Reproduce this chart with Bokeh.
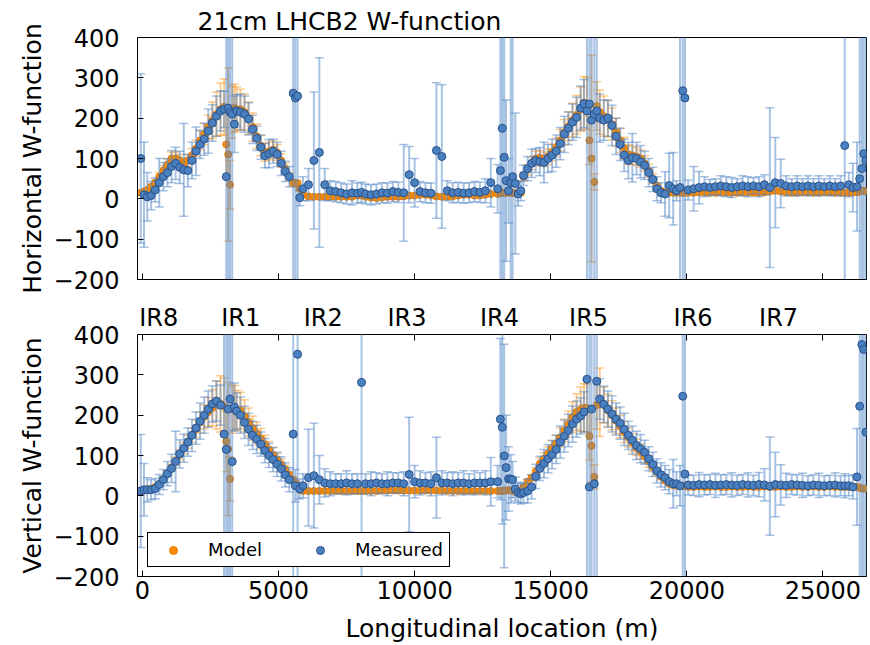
from bokeh.plotting import figure
from bokeh.models import (ColumnDataSource, Range1d, FixedTicker, LinearAxis,
                          Legend, LegendItem)
from bokeh.layouts import column
from bokeh.embed import file_html
from bokeh.resources import INLINE

# ---------------- data ----------------
s = [
    -60, 60, 180, 320, 470, 620, 770, 920, 1070, 1220, 1370, 1520, 1670, 1820, 1970, 2120, 2270, 2420, 2570, 2720, 2870,
    3000, 3080, 3150, 3220, 3300, 3380, 3460,
    3600, 3750, 3900, 4050, 4200, 4350, 4500, 4650, 4800, 4950, 5100, 5250, 5400,
    5540, 5620, 5700, 5780,
    5900, 6100, 6300, 6500, 6700, 6900, 7100, 7300, 7500, 7700, 7900, 8050, 8200, 8400, 8600, 8800, 9000, 9200, 9400, 9600,
    9800, 10000, 10200, 10400, 10600, 10800, 11000, 11200, 11400, 11600, 11800, 12000, 12200, 12400, 12600, 12800,
    13050, 13150, 13220, 13290, 13360, 13450, 13530, 13600, 13700, 13800, 13900,
    14000, 14150, 14300, 14450, 14600, 14750, 14900, 15050, 15200, 15350, 15500, 15650, 15800, 15950, 16100, 16220,
    16330, 16420, 16500, 16600, 16690,
    16800, 16950, 17100, 17250, 17400, 17550, 17700, 17850, 18000, 18150, 18300, 18450, 18600, 18750, 18900, 19050, 19200, 19350, 19500, 19620,
    19750, 19850, 19930,
    20050, 20250, 20450, 20650, 20850, 21050, 21250, 21450, 21650, 21850, 22050, 22250, 22450, 22650, 22850,
    23050, 23250, 23450, 23650, 23850, 24050, 24250, 24450, 24650, 24850, 25050, 25250, 25450, 25650,
    25800, 25950, 26100, 26250, 26350, 26430, 26500, 26580,
]

h_meas = [
    100, 10, 5, 8, 22, 40, 55, 65, 80, 88, 78, 72, 70, 95, 118, 135, 148, 168, 188, 205, 218,
    222, 55, 225, 215, 210, 185, 218,
    215, 210, 198, 172, 150, 128, 107, 112, 118, 110, 88, 68, 55,
    262, 250, 255, 3,
    25, 35, 95, 115, 35, 20, 18, 15, 12, 15, 14, 16, 12, 10, 12, 15, 14, 18, 16, 15,
    60, 40, 18, 15, 14, 120, 105, 20, 15, 16, 14, 15, 18, 16, 20, 40,
    25, 70, 175, 103, 45, 20, 40, 55, 38, 12, 20,
    58, 75, 88, 95, 92, 90, 100, 108, 118, 137, 160, 175, 190, 202, 225, 236,
    218, 235, 195, 210, 218,
    200, 195, 200, 182, 155, 135, 108, 95, 102, 100, 92, 83, 65, 48, 25, 15, 12, 33, 25, 20,
    28, 268, 250,
    22, 25, 28, 30, 28, 30, 32, 30, 28, 30, 32, 30, 32, 30, 35,
    28, 40, 38, 32, 30, 32, 30, 32, 30, 32, 30, 32, 30, 32,
    132, 35, 28, 30, 50, 75, 112, 95,
]
h_meas_err = [
    210, 130, 60, 35, 30, 60, 35, 35, 40, 40, 40, 115, 40, 45, 60, 35, 40, 55, 45, 50, 50,
    45, 1000, 1000, 1000, 1000, 70, 40,
    45, 45, 40, 35, 30, 30, 30, 35, 30, 30, 30, 25, 25,
    1000, 1000, 1000, 20,
    30, 40, 170, 235, 40, 25, 25, 25, 25, 30, 25, 25, 25, 25, 25, 25, 25, 25, 25, 120,
    70, 60, 25, 25, 25, 168, 178, 25, 25, 25, 25, 25, 25, 25, 30, 60,
    60, 1000, 1000, 1000, 200, 80, 1000, 1000, 175, 30, 25,
    25, 30, 35, 30, 35, 50, 35, 40, 40, 40, 45, 40, 45, 50, 55, 60,
    1000, 1000, 1000, 1000, 1000,
    60, 50, 45, 50, 45, 40, 40, 45, 60, 40, 40, 35, 35, 30, 30, 25, 55, 80, 90, 25,
    1000, 1000, 1000,
    25, 55, 40, 25, 20, 20, 25, 25, 25, 20, 25, 25, 20, 25, 25,
    198, 112, 60, 25, 20, 25, 20, 25, 20, 25, 20, 25, 20, 25,
    1000, 30, 60, 110, 1000, 1000, 1000, 1000,
]
h_model = [
    15, 18, 22, 30, 40, 55, 70, 85, 100, 100, 95, 88, 95, 108, 125, 145, 160, 178, 195, 210, 222,
    228, 135, 110, 35, 215, 225, 222,
    222, 215, 200, 178, 155, 132, 115, 118, 122, 115, 95, 75, 55,
    40, 38, 38, 25,
    10, 6, 5, 5, 5, 5, 5, 5, 5, 5, 8, 8, 5, 3, 2, 3, 5, 5, 5, 6,
    8, 8, 10, 10, 8, 6, 5, 5, 6, 8, 10, 10, 8, 8, 10, 12,
    12, 14, 15, 15, 15, 15, 15, 15, 14, 14, 15,
    55, 72, 88, 100, 102, 98, 105, 115, 128, 145, 165, 180, 195, 208, 222, 238,
    236, 145, 100, 42, 230,
    215, 205, 198, 185, 165, 145, 125, 110, 108, 105, 100, 88, 70, 50, 32, 20, 15, 15, 15, 15,
    15, 15, 15,
    15, 15, 16, 16, 15, 15, 16, 16, 15, 15, 16, 16, 15, 15, 16,
    18, 20, 18, 16, 15, 15, 16, 16, 15, 15, 16, 16, 15, 15,
    15, 15, 16, 16, 18, 20, 20, 18,
]
h_model_err = [
    3, 4, 5, 6, 8, 10, 12, 14, 16, 16, 15, 14, 15, 17, 20, 23, 26, 30, 45, 55, 65,
    70, 80, 215, 60, 65, 60, 55,
    50, 45, 40, 35, 30, 25, 22, 22, 22, 20, 17, 14, 10,
    8, 8, 8, 6,
    3, 3, 3, 3, 3, 3, 3, 3, 3, 3, 3, 3, 3, 3, 3, 3, 3, 3, 3, 3,
    3, 3, 3, 3, 3, 3, 3, 3, 3, 3, 3, 3, 3, 3, 3, 3,
    3, 3, 3, 3, 3, 3, 3, 3, 3, 3, 3,
    10, 13, 16, 18, 18, 18, 19, 21, 23, 27, 32, 36, 42, 48, 55, 65,
    65, 60, 256, 20, 60,
    55, 50, 45, 40, 35, 30, 27, 24, 23, 22, 21, 19, 16, 12, 8, 5, 4, 4, 4, 4,
    4, 4, 4,
    3, 3, 3, 3, 3, 3, 3, 3, 3, 3, 3, 3, 3, 3, 3,
    3, 3, 3, 3, 3, 3, 3, 3, 3, 3, 3, 3, 3, 3,
    3, 3, 3, 3, 3, 3, 3, 3,
]

v_meas = [
    12, 15, 15, 15, 18, 28, 40, 55, 68, 85, 104, 118, 133, 150, 168, 185, 200, 215, 228, 235, 225,
    153, 115, 215, 240, 85, 220, 210,
    200, 182, 165, 150, 140, 128, 112, 100, 90, 78, 67, 52, 40,
    153, 25, 351, 17,
    25, 45, 50, 40, 32, 30, 30, 30, 32, 30, 30, 281, 30, 30, 32, 30, 30, 32, 32, 30,
    53, 35, 32, 32, 30, 45, 32, 32, 30, 32, 32, 30, 32, 32, 32, 35,
    35, 190, 170, 99, 70, 42, 42, 40, 17, 8, 5,
    8, 12, 22, 48, 68, 80, 92, 102, 115, 133, 148, 162, 178, 190, 198, 208,
    289, 22, 215, 30, 284,
    240, 227, 215, 203, 190, 180, 165, 150, 138, 125, 117, 108, 92, 78, 62, 52, 45, 35, 30, 30,
    25, 247, 54,
    27, 26, 28, 27, 28, 26, 27, 28, 27, 26, 28, 27, 26, 28, 27,
    24, 28, 27, 26, 28, 27, 26, 25, 27, 26, 25, 26, 27, 25,
    25, 25, 22, 47, 222, 375, 363, 158,
]
v_meas_err = [
    140, 65, 30, 25, 25, 25, 25, 30, 35, 75, 35, 35, 35, 40, 40, 45, 45, 45, 45, 50, 50,
    1000, 1000, 1000, 1000, 1000, 60, 45,
    45, 40, 40, 35, 35, 30, 30, 30, 30, 30, 30, 30, 30,
    1000, 40, 1000, 25,
    30, 120, 130, 60, 35, 30, 25, 25, 30, 25, 25, 1000, 25, 30, 25, 25, 30, 25, 25, 30,
    142, 40, 30, 25, 30, 100, 30, 25, 30, 25, 30, 25, 30, 25, 30, 60,
    40, 200, 240, 277, 130, 80, 60, 45, 30, 25, 25,
    25, 30, 30, 30, 30, 35, 35, 35, 35, 40, 40, 40, 45, 45, 45, 50,
    1000, 1000, 1000, 1000, 1000,
    50, 45, 45, 45, 40, 40, 40, 35, 35, 35, 35, 30, 30, 30, 30, 30, 30, 30, 60, 30,
    50, 1000, 1000,
    25, 25, 30, 25, 25, 30, 25, 25, 30, 25, 25, 30, 25, 30, 40,
    122, 80, 50, 30, 25, 25, 30, 25, 25, 30, 25, 25, 30, 25,
    30, 25, 30, 120, 1000, 1000, 1000, 1000,
]
v_model = [
    12, 14, 16, 18, 22, 30, 42, 56, 70, 86, 102, 118, 134, 150, 166, 182, 196, 208, 218, 225, 228,
    222, 135, 116, 42, 215, 218, 212,
    212, 198, 183, 168, 155, 142, 128, 115, 102, 90, 78, 65, 52,
    40, 32, 25, 15,
    12, 12, 12, 12, 12, 12, 12, 12, 12, 12, 12, 12, 12, 12, 12, 13, 13, 13, 13, 13,
    13, 13, 13, 13, 13, 13, 13, 12, 12, 12, 12, 12, 12, 12, 12, 12,
    12, 12, 12, 13, 13, 14, 14, 12, 10, 8, 12,
    22, 35, 45, 60, 80, 92, 105, 118, 130, 145, 162, 178, 195, 208, 215, 218,
    218, 148, 124, 47, 225,
    232, 225, 212, 200, 186, 172, 158, 145, 132, 120, 110, 98, 85, 72, 60, 48, 38, 30, 26, 25,
    25, 25, 24,
    22, 22, 23, 22, 22, 23, 22, 22, 23, 22, 22, 23, 22, 22, 23,
    22, 22, 23, 22, 22, 23, 22, 22, 23, 22, 22, 23, 22, 22,
    22, 22, 22, 22, 20, 18, 18, 18,
]
v_model_err = [
    2, 2, 2, 3, 3, 4, 5, 6, 8, 10, 12, 14, 16, 18, 22, 26, 30, 36, 45, 60, 70,
    70, 75, 165, 55, 60, 55, 50,
    45, 40, 35, 30, 28, 25, 22, 20, 18, 15, 13, 10, 8,
    6, 5, 4, 3,
    2, 2, 2, 2, 2, 2, 2, 2, 2, 2, 2, 2, 2, 2, 2, 2, 2, 2, 2, 2,
    2, 2, 2, 2, 2, 2, 2, 2, 2, 2, 2, 2, 2, 2, 2, 2,
    2, 2, 2, 2, 2, 2, 2, 2, 2, 2, 2,
    4, 6, 8, 10, 13, 15, 17, 19, 21, 24, 28, 32, 38, 45, 55, 60,
    60, 60, 90, 30, 60,
    85, 45, 40, 36, 32, 28, 26, 24, 22, 20, 18, 16, 14, 12, 10, 8, 6, 5, 4, 4,
    4, 4, 4,
    3, 3, 3, 3, 3, 3, 3, 3, 3, 3, 3, 3, 3, 3, 3,
    3, 3, 3, 3, 3, 3, 3, 3, 3, 3, 3, 3, 3, 3,
    3, 3, 3, 3, 3, 3, 3, 3,
]

ir_names = ["IR8", "IR1", "IR2", "IR3", "IR4", "IR5", "IR6", "IR7"]
ir_pos = [600, 3610, 6640, 9720, 13120, 16390, 20230, 23370]
x_ticks = [0, 5000, 10000, 15000, 20000, 25000]
y_ticks = [-200, -100, 0, 100, 200, 300, 400]
y_tick_labels = ["\u2212200", "\u2212100", "0", "100", "200", "300", "400"]

for arr in (h_meas, h_meas_err, h_model, h_model_err, v_meas, v_meas_err, v_model, v_model_err):
    assert len(arr) == len(s), (len(arr), len(s))

# ---------------- styling ----------------
FONT = "DejaVu Sans"
BLUE = "#4a7fc0"
BLUE_EDGE = "#2a5288"
BLUE_BAR = "#4f86c6"
ORANGE = "#ff8c00"
ORANGE_EDGE = "#e57a00"
ORANGE_BAR = "#ff9a20"

x_range = Range1d(-180, 26600)


def style_axis(ax):
    ax.major_tick_in = 6
    ax.major_tick_out = 0
    ax.minor_tick_in = 6
    ax.minor_tick_out = 0
    ax.axis_line_color = "black"
    ax.major_tick_line_color = "black"
    ax.major_label_text_font = FONT
    ax.major_label_text_font_size = "24px"
    ax.major_label_text_color = "black"
    ax.axis_label_text_font = FONT
    ax.axis_label_text_font_size = "25px"
    ax.axis_label_text_font_style = "normal"
    ax.axis_label_text_color = "black"


def make_fig(height, btop, bbottom, with_x_labels):
    p = figure(width=870, height=height, x_range=x_range, y_range=Range1d(-200, 400),
               output_backend="svg", toolbar_location=None,
               x_axis_location=("below" if with_x_labels else None),
               min_border_left=137, min_border_right=4,
               min_border_top=btop, min_border_bottom=bbottom)
    p.grid.visible = False
    p.background_fill_color = "white"
    p.border_fill_color = "white"
    p.outline_line_color = "black"
    p.outline_line_alpha = 1
    p.outline_line_width = 1
    for ax in p.axis:
        style_axis(ax)
        ax.minor_tick_line_color = None
    p.yaxis.ticker = FixedTicker(ticks=y_ticks)
    p.yaxis.major_label_overrides = dict(zip(y_ticks, y_tick_labels))
    p.yaxis.major_label_standoff = 18
    p.yaxis.axis_label_standoff = 4
    if with_x_labels:
        p.xaxis.ticker = FixedTicker(ticks=x_ticks)
    else:
        # tick marks only (no labels) along the bottom edge
        ax = LinearAxis(ticker=FixedTicker(ticks=[], minor_ticks=x_ticks))
        style_axis(ax)
        ax.major_label_standoff = 0
        p.add_layout(ax, "below")
    return p


def draw(p, vals, errs, fill, edge, bar, size, bar_alpha):
    lo = [v - e for v, e in zip(vals, errs)]
    hi = [v + e for v, e in zip(vals, errs)]
    src = ColumnDataSource(dict(s=s, v=vals, lo=lo, hi=hi))
    p.segment(x0="s", y0="lo", x1="s", y1="hi", source=src,
              line_color=bar, line_alpha=bar_alpha, line_width=2)
    p.scatter(x="s", y="lo", source=src, marker="dash", size=9,
              line_color=bar, line_alpha=bar_alpha, line_width=1.5)
    p.scatter(x="s", y="hi", source=src, marker="dash", size=9,
              line_color=bar, line_alpha=bar_alpha, line_width=1.5)
    r = p.scatter(x="s", y="v", source=src, marker="circle", size=size,
                  fill_color=fill, line_color=edge, line_width=1, fill_alpha=1)
    return r


# ---------------- top panel (horizontal) ----------------
p1 = make_fig(300, 37, 21, with_x_labels=False)
p1.title.text = "21cm LHCB2 W-function"
p1.title.text_font = FONT
p1.title.text_font_size = "25px"
p1.title.text_font_style = "normal"
p1.title.text_color = "black"
p1.title.align = "left"
p1.title.offset = 60
p1.title.standoff = 3
p1.yaxis.axis_label = "Horizontal W-function"

draw(p1, h_model, h_model_err, ORANGE, ORANGE_EDGE, ORANGE_BAR, 7, 0.5)
draw(p1, h_meas, h_meas_err, BLUE, BLUE_EDGE, BLUE_BAR, 8, 0.5)

# ---------------- bottom panel (vertical) ----------------
p2 = make_fig(345, 33, 69, with_x_labels=True)
p2.title.visible = False
p2.title.standoff = 0
p2.yaxis.axis_label = "Vertical W-function"
p2.xaxis.axis_label = "Longitudinal location (m)"
p2.xaxis.major_label_standoff = 4
p2.xaxis.axis_label_standoff = 12

r_mod = draw(p2, v_model, v_model_err, ORANGE, ORANGE_EDGE, ORANGE_BAR, 7, 0.5)
r_meas = draw(p2, v_meas, v_meas_err, BLUE, BLUE_EDGE, BLUE_BAR, 8, 0.5)

ir_axis = LinearAxis(
    ticker=FixedTicker(ticks=ir_pos, minor_ticks=x_ticks),
    major_label_overrides=dict(zip(ir_pos, ir_names)),
    major_tick_line_color=None,
    minor_tick_in=6, minor_tick_out=0, minor_tick_line_color="black",
    axis_line_color=None,
    major_label_text_font=FONT, major_label_text_font_size="24px",
    major_label_text_color="black", major_label_standoff=-3,
    axis_label_standoff=0,
)
p2.add_layout(ir_axis, "above")

legend = Legend(
    items=[LegendItem(label="Model", renderers=[r_mod]),
           LegendItem(label="Measured", renderers=[r_meas])],
    location=(10, 9), orientation="horizontal",
    label_text_font=FONT, label_text_font_size="18px", label_text_color="black",
    border_line_color="black", border_line_width=1, border_line_alpha=1,
    background_fill_color="white", background_fill_alpha=1,
    padding=6, spacing=39, glyph_width=38, glyph_height=20,
    label_standoff=16, margin=0,
)
p2.add_layout(legend)

layout = column(p1, p2, spacing=0)
open("out.html", "w").write(file_html(layout, INLINE))
